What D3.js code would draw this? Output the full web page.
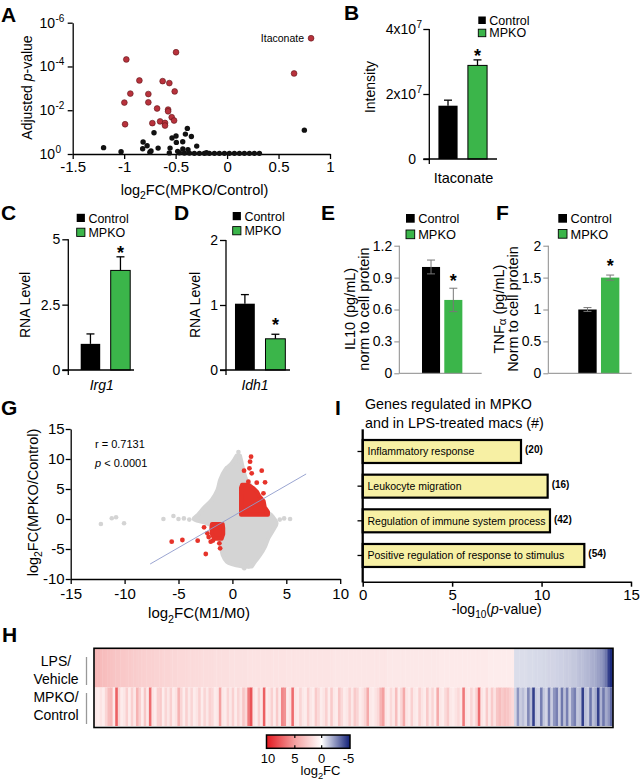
<!DOCTYPE html>
<html><head><meta charset="utf-8">
<script src="https://cdn.jsdelivr.net/npm/d3@7"></script>
<style>body{margin:0;background:#fff}svg{display:block}text{font-family:"Liberation Sans",Arial,Helvetica,sans-serif}</style>
</head><body><svg id="c" width="644" height="784"></svg>
<script>
// ================= DATA =================
// Panel A: volcano (x = log2FC, y = -log10 adjusted p)
const aRed = [[0.816,5.29],[-0.496,4.65],[-0.979,4.32],[0.651,3.68],[-0.852,3.36],[-0.626,3.33],[-0.561,3.24],[-0.94,2.76],[-0.765,2.74],[-0.509,2.86],[-0.998,2.35],[-0.765,2.36],[-0.68,2.08],[-0.573,2.03],[-0.573,1.95],[-0.538,1.68],[-0.515,1.53],[-0.651,1.49],[-0.603,1.42],[-0.603,1.30],[-0.726,1.41],[-0.991,1.36]];
const aBlack = [[0.751,1.09],[-0.386,1.17],[-0.405,0.91],[-0.347,0.80],[-0.71,0.97],[-0.496,0.82],[-0.535,0.73],[-0.493,0.53],[-0.816,0.55],[-0.777,0.38],[-0.82,0.24],[-0.67,0.27],[-0.554,0.27],[-0.431,0.56],[-0.295,0.36],[-1.2,0.29],[-1.03,0.10],[-0.739,0.14],[-0.43,0.23],[-0.38,0.2],[-0.561,0.05],[-0.464,0.06],[-0.415,0.04],[-0.366,0.04],[-0.318,0.03],[-0.269,0.03],[-0.221,0.03],[-0.172,0.03],[-0.123,0.03],[-0.075,0.03],[-0.026,0.03],[0.022,0.03],[0.071,0.03],[0.12,0.03],[0.168,0.03],[0.217,0.03],[0.265,0.03],[0.314,0.03],[-0.75,0.08],[-0.48,0.12],[-0.2,0.06]];
const aXTicks = [-1.5,-1,-0.5,0,0.5,1];
const aYTicks = [0,2,4,6];
const aYLabels = ["0","-2","-4","-6"];

// Panel B
const groups = ["Control","MPKO"];
const bMeans = [1.64e7, 2.88e7];
const bErrs  = [0.17e7, 0.17e7];
const bTicks = [0, 2e7, 4e7];
const bTickLabels = [["0",""],["2x10","7"],["4x10","7"]];
// Panel C (Irg1) and D (Idh1)
const cMeans = [1.0, 3.81], cErrs = [0.38, 0.52], cTicks = [0, 2.5, 5];
const dMeans = [1.02, 0.48], dErrs = [0.14, 0.07], dTicks = [0, 1, 2];
// Panel E (IL10) and F (TNFa)
const eMeans = [1.0, 0.69], eErrs = [0.065, 0.11], eTicks = [0, 0.3, 0.6, 0.9, 1.2];
const fMeans = [1.0, 1.5],  fErrs = [0.03, 0.04],  fTicks = [0, 0.5, 1, 1.5, 2];

// Panel G: scatter of log2FC(M1/M0) vs log2FC(MPKO/Control)
// dense grey cloud envelope: [y, xmin, xmax]
const gCloud = [[-7.9,0.87,1.8],[-7.1,-0.53,2.1],[-6.0,-0.9,2.57],[-4.6,-1.05,3.03],[-3.2,-1.14,3.34],[-1.8,-1.3,3.8],[-0.7,-2.4,4.1],[0.0,-3.6,3.9],[0.67,-3.2,3.6],[1.78,-2.69,2.7],[3.17,-1.92,2.6],[4.83,-1.39,2.0],[6.5,-1.14,1.3],[8.17,-0.68,1.02],[9.28,-0.06,0.87],[10.6,0.4,0.7]];
const gGrey = [[-12.2,-0.83],[-11.19,0.12],[-10.79,0.28],[-10.05,-0.72],[-6.4,0.0],[-5.47,0.5],[-5.0,0.0],[-4.5,0.1],[-4.0,-0.1],[5.35,0.0],[4.8,0.1],[4.4,-0.1],[0.56,11.17],[-0.52,8.45],[0.3,9.8],[1.5,-7.9],[1.1,-8.2]];
// dense red blocks envelopes: [y, xmin, xmax]
const gRedUp = [[0.7,0.8,3.3],[1.2,0.8,3.3],[2.0,0.8,3.0],[3.0,0.8,2.9],[3.8,0.8,2.5],[4.5,0.8,2.3],[5.2,0.8,1.9],[5.7,0.9,1.5]];
const gRedLow = [[-3.3,-1.7,-1.0],[-2.5,-1.9,-0.85],[-1.5,-1.95,-0.85],[-0.85,-1.9,-0.9]];
const gRed = [[1.73,10.39],[1.64,9.56],[1.08,8.06],[1.58,8.44],[1.79,7.61],[2.72,8.06],[1.48,6.22],[2.26,6.06],[3.03,6.11],[2.88,4.28],[3.2,1.0],[2.6,3.3],[-5.63,-3.78],[-4.64,-3.5],[-3.22,-3.61],[-2.63,-1.39],[-2.32,-2.39],[-2.01,-3.78],[-1.21,-4.06],[-1.14,-4.89],[-2.47,-5.83],[-2.2,-3.0],[-1.8,-3.6]];
const gFit = {slope: 1.037, intercept: 0.41, xmin: -7.63, xmax: 6.84};
const gXTicks = [-15,-10,-5,0,5,10], gYTicks = [-10,-5,0,5,10,15];

// Panel I
const iTerms = ["Inflammatory response","Leukocyte migration","Regulation of immune system process","Positive regulation of response to stimulus"];
const iValues = [8.85, 10.34, 10.47, 12.39];
const iCounts = [20, 16, 42, 54];
const iTicks = [0, 5, 10, 15];

// Panel H heatmap (log2FC per gene)
const hLPS = [3.8,3.7,3.6,3.5,3.4,3.3,3.2,3.1,3.0,3.0,
2.9,2.9,2.8,2.8,2.7,2.7,2.6,2.6,2.5,2.5,
2.4,2.4,2.4,2.3,2.3,2.3,2.2,2.2,2.2,2.1,
2.1,2.1,2.0,2.0,2.0,2.0,1.9,1.9,1.9,1.9,
1.9,1.8,1.8,1.8,1.8,1.8,1.7,1.7,1.7,1.7,
1.7,1.7,1.6,1.6,1.6,1.6,1.6,1.6,1.6,1.5,
1.5,1.5,1.5,1.5,1.5,1.5,1.5,1.5,1.5,1.5,
1.5,1.5,1.5,1.5,1.4,1.4,1.4,1.4,1.4,1.4,
1.4,1.4,1.4,1.4,1.4,1.4,1.4,1.4,1.4,1.4,
1.4,1.4,1.3,1.3,1.3,1.3,1.3,1.3,1.3,1.3,
1.3,1.3,1.3,1.3,1.3,1.3,1.3,1.3,1.3,1.3,
1.3,1.3,1.3,1.2,1.2,1.2,1.2,1.2,1.2,1.2,
1.2,1.2,1.2,1.2,1.2,1.2,1.2,1.2,1.2,1.2,
1.2,1.2,1.2,1.1,1.1,1.1,1.1,1.1,1.1,1.1,
1.1,1.1,1.1,1.1,1.1,1.1,1.1,1.1,1.1,1.1,
1.1,1.1,1.0,1.0,1.0,1.0,1.0,1.0,1.0,1.0,
1.0,1.0,-0.8,-0.8,-0.8,-0.8,-0.8,-0.85,-0.85,-0.85,
-0.9,-0.9,-0.9,-0.95,-0.95,-1.0,-1.0,-1.0,-1.05,-1.1,
-1.1,-1.15,-1.2,-1.2,-1.3,-1.3,-1.4,-1.5,-1.5,-1.6,
-1.7,-1.8,-1.9,-2.0,-2.2,-2.4,-2.7,-3.2,-4.5,-5.5];
const hMPKO = [1.2,1.0,1.4,1.0,2.2,3.5,3.8,1.2,7.5,2.2,
1.0,1.3,2.5,1.0,2.5,1.2,4.0,2.5,1.0,3.0,
1.2,7.0,1.4,1.0,2.5,2.8,1.0,2.2,1.3,2.5,
1.0,1.5,4.0,2.2,1.0,2.5,1.2,2.2,1.0,1.4,
2.5,1.0,2.2,1.2,2.4,2.0,1.0,1.3,5.0,1.2,
1.0,2.2,1.2,2.5,1.0,2.2,1.3,3.0,2.0,6.5,
8.0,1.4,1.0,2.5,1.2,7.5,1.0,1.3,2.5,1.0,
2.8,1.2,6.0,5.5,1.0,1.5,7.0,1.3,1.0,2.2,
1.2,1.0,2.5,1.3,1.0,2.8,2.0,1.0,1.4,2.5,
1.0,2.8,1.2,1.0,3.0,2.0,1.0,1.3,2.5,1.2,
2.8,2.2,1.0,1.4,2.2,4.5,1.2,1.0,1.5,2.0,
4.0,5.0,1.3,1.0,2.0,1.2,3.5,1.0,2.2,4.5,
1.3,1.0,2.5,1.2,1.0,2.5,1.4,1.0,2.8,1.2,
2.2,1.0,4.5,1.3,1.0,2.0,2.8,1.2,1.0,1.5,
2.0,1.2,6.5,1.3,1.0,2.2,1.2,2.5,7.0,1.4,
1.0,2.8,1.2,2.8,1.5,3.0,3.5,2.8,3.2,3.0,
2.5,2.0,-1.0,-2.5,-1.2,-1.5,-1.0,-2.8,-1.5,-4.5,
-1.2,-1.0,-3.0,-1.3,-1.0,-3.0,-1.2,-2.5,-3.0,-1.2,
-3.2,-1.5,-3.0,-1.2,-2.5,-3.0,-1.3,-1.5,-4.5,-1.5,
-1.2,-3.2,-1.5,-2.0,-4.5,-1.8,-3.2,-2.0,-2.5,-3.5];
const hRows = [["LPS/","Vehicle"],["MPKO/","Control"]];
const cbStops = [10, 5, 0, -5];
const cbColors = ["#e41f26","#f4a0a0","#ffffff","#1c2a7e"];
const cbTicks = [10, 5, 0, -5];

// ================= DRAWING =================
const FONT = '"Liberation Sans", Arial, Helvetica, sans-serif';
const GREEN = "#3bb54a";
const svg = d3.select("#c");

function rich(sel, parts, fs) {
  let shift = 0;
  parts.forEach(([t, k]) => {
    const ts = sel.append("tspan").text(t);
    let target = 0, size = fs;
    if (k === "sub") { target = 0.3 * fs; size = 0.72 * fs; }
    if (k === "sup") { target = -0.42 * fs; size = 0.72 * fs; }
    if (k === "small") { target = 0.12 * fs; size = 0.8 * fs; }
    if (k === "i") ts.attr("font-style", "italic");
    ts.attr("font-size", size);
    if (target !== shift) { ts.attr("dy", target - shift); shift = target; }
  });
  return sel;
}
function text(g, x, y, s, fs, opt = {}) {
  const t = g.append("text").attr("x", x).attr("y", y).attr("font-size", fs).attr("fill", "#000")
    .attr("text-anchor", opt.anchor || "start");
  if (opt.weight) t.attr("font-weight", opt.weight);
  if (opt.style) t.attr("font-style", opt.style);
  if (opt.rotate) t.attr("transform", `rotate(-90,${x},${y})`);
  if (Array.isArray(s)) rich(t, s, fs); else t.text(s);
  return t;
}
function styleAxis(ag, fs, color = "#000", sw = 1.3) {
  ag.attr("font-family", FONT).attr("font-size", fs);
  ag.selectAll("path,line").attr("stroke", color).attr("stroke-width", sw);
  ag.selectAll("text").attr("fill", "#000");
}

// panel letters
[["A",1,22],["B",344,20],["C",1,220],["D",174,220],["E",321,220],["F",496,220],["G",1,415],["I",335,415],["H",2,642]]
  .forEach(([l, x, y]) => text(svg, x, y, l, 21, {weight: "bold"}));

// ---------- Panel A ----------
{
  const g = svg.append("g");
  const x = d3.scaleLinear().domain([-1.5, 1]).range([72.7, 330]);
  const y = d3.scaleLinear().domain([0, 6]).range([154, 22.7]);
  const xa = g.append("g").attr("transform", "translate(0,154)")
    .call(d3.axisBottom(x).tickValues(aXTicks).tickFormat(d => String(d)).tickSize(5).tickSizeOuter(0).tickPadding(2));
  styleAxis(xa, 15);
  const ya = g.append("g").attr("transform", "translate(72.7,0)")
    .call(d3.axisLeft(y).tickValues(aYTicks).tickFormat("").tickSize(5).tickSizeOuter(0));
  styleAxis(ya, 14);
  aYTicks.forEach((v, i) => {
    text(g, 55, y(v) + 5, "10", 14, {anchor: "end"});
    text(g, 55.5, y(v) - 1, aYLabels[i], 10);
  });
  g.selectAll(".blk").data(aBlack).join("circle").attr("cx", d => x(d[0])).attr("cy", d => y(d[1]))
    .attr("r", 2.7).attr("fill", "#111");
  g.selectAll(".red").data(aRed).join("circle").attr("cx", d => x(d[0])).attr("cy", d => y(d[1]))
    .attr("r", 2.9).attr("fill", "#b8323c").attr("stroke", "#5e1417").attr("stroke-width", 0.6);
  text(g, x(aRed[0][0]) - 7, y(aRed[0][1]) + 3.8, "Itaconate", 10.5, {anchor: "end"});
  text(g, 194.5, 195, [["log"], ["2", "sub"], ["FC(MPKO/Control)"]], 14.5, {anchor: "middle"});
  text(g, 31.5, 87.5, [["Adjusted "], ["p", "i"], ["-value"]], 14, {anchor: "middle", rotate: true});
}

// ---------- generic bar panels ----------
function legend(x, y, gap, size, fs) {
  groups.forEach((l, i) => {
    svg.append("rect").attr("x", x).attr("y", y + i * gap).attr("width", size).attr("height", size)
      .attr("fill", i ? GREEN : "#000").attr("stroke", "#000").attr("stroke-width", i ? 0.9 : 0);
    text(svg, x + size + 3.5, y + i * gap + size + 0.5, l, fs);
  });
}
function barPanel(c) {
  const g = svg.append("g");
  const y = d3.scaleLinear().domain([0, c.ymax]).range([c.y0, c.y1]);
  const x = d3.scaleBand().domain(groups).range(c.xr).paddingInner(c.pi).paddingOuter(c.po);
  const prism = c.style === "prism";
  const axCol = prism ? "#000" : "#8a8a8a";
  const ag = g.append("g").attr("transform", `translate(${c.ax},0)`)
    .call(d3.axisLeft(y).tickValues(c.ticks).tickSize(c.tick).tickPadding(c.pad)
      .tickFormat(c.custom ? "" : (d => String(d))));
  styleAxis(ag, c.fs, axCol, prism ? 1.3 : 1);
  ag.select(".domain").remove();
  if (c.custom) c.custom(g, y);
  g.append("line").attr("x1", c.ax).attr("x2", c.ax).attr("y1", c.y1).attr("y2", c.y0 + (prism ? 5 : 0))
    .attr("stroke", axCol).attr("stroke-width", prism ? 1.3 : 1);
  g.selectAll(".bar").data(groups).join("rect")
    .attr("x", d => x(d)).attr("width", x.bandwidth())
    .attr("y", (d, i) => y(c.means[i])).attr("height", (d, i) => y(0) - y(c.means[i]))
    .attr("fill", (d, i) => i ? GREEN : "#000")
    .attr("stroke", (d, i) => prism && i ? "#000" : "none").attr("stroke-width", 1);
  g.append("line").attr("x1", c.ax - (prism ? 6 : 0)).attr("x2", c.xEnd).attr("y1", c.y0).attr("y2", c.y0)
    .attr("stroke", axCol).attr("stroke-width", prism ? 1.3 : 1);
  const ec = prism ? "#000" : "#777";
  groups.forEach((d, i) => {
    const cx = x(d) + x.bandwidth() / 2;
    const top = y(c.means[i] + c.errs[i]);
    const bot = prism ? y(c.means[i]) : y(c.means[i] - c.errs[i]);
    g.append("line").attr("x1", cx).attr("x2", cx).attr("y1", top).attr("y2", bot).attr("stroke", ec).attr("stroke-width", prism ? 1.3 : 1);
    g.append("line").attr("x1", cx - 4).attr("x2", cx + 4).attr("y1", top).attr("y2", top).attr("stroke", ec).attr("stroke-width", prism ? 1.3 : 1);
    if (!prism) g.append("line").attr("x1", cx - 4).attr("x2", cx + 4).attr("y1", bot).attr("y2", bot).attr("stroke", ec).attr("stroke-width", 1);
  });
  const sx = x("MPKO") + x.bandwidth() / 2;
  text(g, sx, y(c.means[1] + c.errs[1]) - c.starOff + 9, "*", 18, {anchor: "middle", weight: "bold"});
  return {g, x, y};
}

// Panel B
{
  barPanel({ymax: 4e7, y0: 159, y1: 29, xr: [434, 491.5], pi: 0.35, po: 0.15, ax: 429.3, xEnd: 497,
    ticks: bTicks, tick: 6, pad: 2, fs: 14, style: "prism", means: bMeans, errs: bErrs, starOff: 7,
    custom: (g, y) => bTicks.forEach((v, i) => {
      text(g, 416, y(v) + 5, bTickLabels[i][0], 14, {anchor: "end"});
      if (bTickLabels[i][1]) text(g, 416.5, y(v) - 1, bTickLabels[i][1], 10);
    })});
  text(svg, 463.5, 183, "Itaconate", 14.5, {anchor: "middle"});
  text(svg, 375, 87, "Intensity", 14, {anchor: "middle", rotate: true});
  legend(478.3, 16.5, 12.7, 7.5, 12.5);
}
// Panel C
{
  barPanel({ymax: 5, y0: 370, y1: 239.3, xr: [76.2, 134.7], pi: 0.35, po: 0.15, ax: 68.3, xEnd: 134,
    ticks: cTicks, tick: 6, pad: 2, fs: 14, style: "prism", means: cMeans, errs: cErrs, starOff: 6.7});
  text(svg, 101.7, 390, "Irg1", 14, {anchor: "middle", style: "italic"});
  text(svg, 30, 305, "RNA Level", 14, {anchor: "middle", rotate: true});
  legend(76.7, 213.8, 14.4, 8.2, 12.5);
}
// Panel D
{
  barPanel({ymax: 2, y0: 370, y1: 240, xr: [230.4, 289.9], pi: 0.35, po: 0.15, ax: 226, xEnd: 290,
    ticks: dTicks, tick: 6, pad: 2, fs: 14, style: "prism", means: dMeans, errs: dErrs, starOff: 12.6});
  text(svg, 255, 390, "Idh1", 14, {anchor: "middle", style: "italic"});
  text(svg, 200, 305, "RNA Level", 14, {anchor: "middle", rotate: true});
  legend(232.7, 212, 14.6, 8.2, 12.5);
}
// Panel E
{
  barPanel({ymax: 1.2, y0: 373.3, y1: 245.7, xr: [410.85, 473.5], pi: 0.19, po: 0.5, ax: 399.3, xEnd: 481.7,
    ticks: eTicks, tick: 5, pad: 2, fs: 14, style: "excel", means: eMeans, errs: eErrs, starOff: 10});
  text(svg, 354.5, 309, "IL10 (pg/mL)", 14.5, {anchor: "middle", rotate: true});
  text(svg, 368.5, 309, "norm to cell protein", 14.5, {anchor: "middle", rotate: true});
  legend(406, 214, 16, 8.7, 12.8);
}
// Panel F
{
  barPanel({ymax: 2, y0: 373.3, y1: 245.7, xr: [566.95, 630.7], pi: 0.19, po: 0.5, ax: 548.3, xEnd: 631.7,
    ticks: fTicks, tick: 5, pad: 2, fs: 14, style: "excel", means: fMeans, errs: fErrs, starOff: 12.3});
  text(svg, 504, 309, [["TNF"], ["α", "small"], [" (pg/mL)"]], 14.5, {anchor: "middle", rotate: true});
  text(svg, 518, 309, "Norm to cell protein", 14.5, {anchor: "middle", rotate: true});
  legend(558.3, 214, 15.5, 8.7, 12.8);
}

// ---------- Panel G ----------
{
  const g = svg.append("g");
  const x = d3.scaleLinear().domain([-15, 10]).range([70.7, 340.2]);
  const y = d3.scaleLinear().domain([-10, 15]).range([579, 429]);
  const area = d3.area().y(d => y(d[0])).x0(d => x(d[1])).x1(d => x(d[2])).curve(d3.curveCatmullRom);
  g.append("path").attr("d", area(gCloud)).attr("fill", "#d4d4d4").attr("stroke", "#d4d4d4").attr("stroke-width", 4).attr("stroke-linejoin", "round");
  g.selectAll(".gp").data(gGrey).join("circle").attr("cx", d => x(d[0])).attr("cy", d => y(d[1])).attr("r", 2.3).attr("fill", "#d4d4d4");
  const redCol = "#e6332a";
  [gRedUp, gRedLow].forEach(r => g.append("path").attr("d", area.curve(d3.curveLinear)(r)).attr("fill", redCol)
    .attr("stroke", redCol).attr("stroke-width", 4).attr("stroke-linejoin", "round"));
  g.selectAll(".rp").data(gRed).join("circle").attr("cx", d => x(d[0])).attr("cy", d => y(d[1])).attr("r", 2.4).attr("fill", redCol);
  g.append("line").attr("x1", x(gFit.xmin)).attr("y1", y(gFit.slope * gFit.xmin + gFit.intercept))
    .attr("x2", x(gFit.xmax)).attr("y2", y(gFit.slope * gFit.xmax + gFit.intercept))
    .attr("stroke", "#8e9bcc").attr("stroke-width", 0.9);
  const xa = g.append("g").attr("transform", "translate(0,579)")
    .call(d3.axisBottom(x).tickValues(gXTicks).tickFormat(d => String(d)).tickSize(5).tickSizeOuter(0).tickPadding(4));
  styleAxis(xa, 15);
  const ya = g.append("g").attr("transform", "translate(70.7,0)")
    .call(d3.axisLeft(y).tickValues(gYTicks).tickFormat(d => String(d)).tickSize(5).tickSizeOuter(0).tickPadding(1));
  styleAxis(ya, 15);
  text(g, 95, 447.5, "r = 0.7131", 11);
  text(g, 95, 467, [["p", "i"], [" < 0.0001"]], 11);
  text(g, 199, 618, [["log"], ["2", "sub"], ["FC(M1/M0)"]], 15, {anchor: "middle"});
  text(g, 38, 502.5, [["log"], ["2", "sub"], ["FC(MPKO/Control)"]], 14.5, {anchor: "middle", rotate: true});
}

// ---------- Panel I ----------
{
  const g = svg.append("g");
  const x = d3.scaleLinear().domain([0, 15]).range([362.7, 631]);
  const y = d3.scaleBand().domain(iTerms).range([433.07, 573.9]).paddingInner(0.337).paddingOuter(0.2);
  g.selectAll(".ib").data(iTerms).join("rect").attr("x", x(0)).attr("y", d => y(d))
    .attr("width", (d, i) => x(iValues[i]) - x(0)).attr("height", y.bandwidth())
    .attr("fill", "#f7f0a4").attr("stroke", "#000").attr("stroke-width", 2.2);
  iTerms.forEach((t, i) => {
    const cy = y(t) + y.bandwidth() / 2;
    text(g, 367.5, cy + 3.8, t, 10.5);
    text(g, x(iValues[i]) + 4, cy + 2, `(${iCounts[i]})`, 10, {weight: "bold"});
    g.append("line").attr("x1", 357.5).attr("x2", 362.7).attr("y1", cy).attr("y2", cy).attr("stroke", "#000").attr("stroke-width", 1.3);
  });
  g.append("line").attr("x1", 362.7).attr("x2", 362.7).attr("y1", 429.3).attr("y2", 582.5).attr("stroke", "#000").attr("stroke-width", 2.3);
  const xa = g.append("g").attr("transform", "translate(0,581.7)")
    .call(d3.axisBottom(x).tickValues(iTicks).tickFormat(d => String(d)).tickSize(5).tickSizeOuter(0).tickPadding(3));
  styleAxis(xa, 15, "#000", 1.5);
  text(g, 365, 409, "Genes regulated in MPKO", 14.3);
  text(g, 365, 428, "and in LPS-treated macs (#)", 14.3);
  text(g, 496.7, 614, [["-log"], ["10", "sub"], ["("], ["p", "i"], ["-value)"]], 14, {anchor: "middle"});
}

// ---------- Panel H ----------
{
  const g = svg.append("g");
  const color = d3.scaleLinear().domain(cbStops).range(cbColors).clamp(true);
  const N = hLPS.length;
  const x = d3.scaleBand().domain(d3.range(N)).range([94.5, 612.5]);
  const rowsY = [649, 687.5], rowH = 38.5;
  [hLPS, hMPKO].forEach((arr, r) => {
    g.selectAll(".c" + r).data(arr).join("rect").attr("x", (d, i) => x(i)).attr("width", x.bandwidth() + 0.4)
      .attr("y", rowsY[r]).attr("height", rowH).attr("fill", d => color(d));
  });
  g.append("rect").attr("x", 94).attr("y", 648.3).attr("width", 519).attr("height", 79.2)
    .attr("fill", "none").attr("stroke", "#000").attr("stroke-width", 1.6);
  hRows.forEach((lab, r) => {
    const base = r ? 701.5 : 666;
    text(g, 56, base, lab[0], 14, {anchor: "middle"});
    text(g, 56, base + 18, lab[1], 14, {anchor: "middle"});
  });
  [[657, 685], [693, 724]].forEach(([a, b]) => g.append("line").attr("x1", 86.5).attr("x2", 86.5).attr("y1", a).attr("y2", b)
    .attr("stroke", "#999").attr("stroke-width", 1.3));
  const cx = d3.scaleLinear().domain([10, -5]).range([268, 348.5]);
  const grad = svg.append("defs").append("linearGradient").attr("id", "cbg").attr("x1", "0%").attr("x2", "100%");
  cbStops.forEach((v, i) => grad.append("stop").attr("offset", (cx(v) - 266.5) / (350 - 266.5)).attr("stop-color", cbColors[i]));
  g.append("rect").attr("x", 266.5).attr("y", 735).attr("width", 83.5).attr("height", 13.3)
    .attr("fill", "url(#cbg)").attr("stroke", "#000").attr("stroke-width", 1.5);
  cbTicks.forEach(v => {
    if (v === 5 || v === 0) {
      g.append("line").attr("x1", cx(v)).attr("x2", cx(v)).attr("y1", 735).attr("y2", 738).attr("stroke", "#000").attr("stroke-width", 1.2);
      g.append("line").attr("x1", cx(v)).attr("x2", cx(v)).attr("y1", 745.3).attr("y2", 748.3).attr("stroke", "#000").attr("stroke-width", 1.2);
    }
    text(g, cx(v), 763, String(v), 13, {anchor: "middle"});
  });
  text(g, 320.5, 775, [["log"], ["2", "sub"], ["FC"]], 13, {anchor: "middle"});
}
</script></body></html>
